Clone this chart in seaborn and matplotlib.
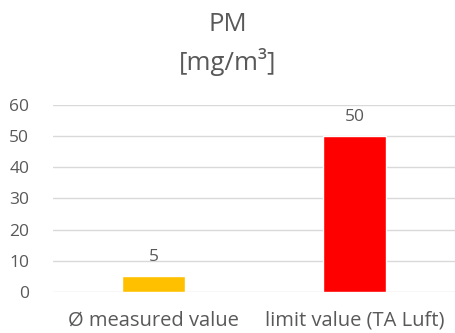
import matplotlib
matplotlib.use("Agg")
import matplotlib.pyplot as plt
import seaborn as sns
import pandas as pd

categories = ["Ø measured value", "limit value (TA Luft)"]
values = [5, 50]
bar_colors = ["#FFC000", "#FF0000"]
y_ticks = [0, 10, 20, 30, 40, 50, 60]

sns.set_theme(style="white")
plt.rcParams["font.family"] = ["Open Sans", "DejaVu Sans"]

text_color = "#595959"
df = pd.DataFrame({"category": categories, "value": values})

fig = plt.figure(figsize=(4.56, 3.33), dpi=100)
ax = fig.add_axes([0.116, 0.123, 0.882, 0.562])

sns.barplot(data=df, x="category", y="value", hue="category",
            palette=bar_colors, width=0.31, legend=False, ax=ax,
            saturation=1)

ax.set_ylim(0, 60)
ax.set_yticks(y_ticks)
ax.set_xlim(-0.5, 1.5)
ax.set_xlabel("")
ax.set_ylabel("")
ax.grid(axis="y", color="#d9d9d9", linewidth=1)
ax.set_axisbelow(True)
for s in ax.spines.values():
    s.set_visible(False)
ax.tick_params(axis="y", length=0, pad=17, labelsize=12.5, labelcolor=text_color)
ax.tick_params(axis="x", length=0, pad=13, labelsize=14.5, labelcolor=text_color)

for i, v in enumerate(values):
    ax.annotate(str(v), (i, v), xytext=(0, 8), textcoords="offset points",
                ha="center", va="bottom", fontsize=12.5, color=text_color)

fig.text(0.5, 0.925, "PM", ha="center", va="center", fontsize=18.5, color=text_color)
fig.text(0.5, 0.815, "[mg/m³]", ha="center", va="center", fontsize=18.5, color=text_color)

fig.savefig("out.png", dpi=100)
